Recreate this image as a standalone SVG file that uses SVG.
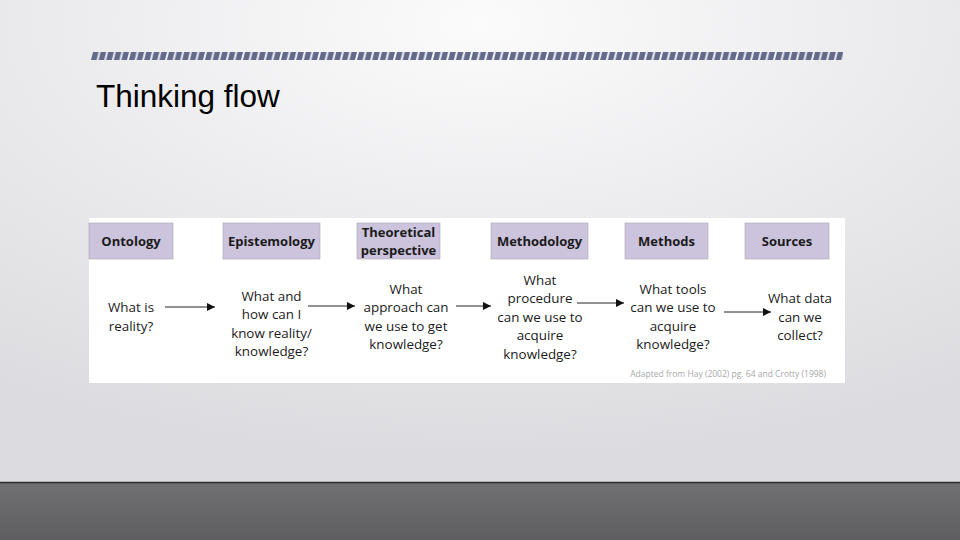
<svg xmlns="http://www.w3.org/2000/svg" width="960" height="540" viewBox="0 0 960 540">
<defs>
<radialGradient id="bg" cx="0.5" cy="0.05" r="0.9">
<stop offset="0" stop-color="#fbfbfc"/>
<stop offset="0.5" stop-color="#ebebed"/>
<stop offset="1" stop-color="#dcdce0"/>
</radialGradient>
<linearGradient id="floor" x1="0" y1="0" x2="0" y2="1">
<stop offset="0" stop-color="#707072"/>
<stop offset="1" stop-color="#5e5e61"/>
</linearGradient>
<pattern id="stripes" x="91" y="52" width="7.6" height="8" patternUnits="userSpaceOnUse">
<polygon points="2,0 7.6,0 5.6,8 0,8" fill="#626b89"/>
</pattern>
<marker id="arr" viewBox="0 0 10 10" refX="10" refY="5" markerWidth="8" markerHeight="8" markerUnits="userSpaceOnUse" orient="auto">
<path d="M0,0 L10,5 L0,10 z" fill="#111"/>
</marker>
<style>
.hdr{fill:#ccc3dc;stroke:#a9a3b4;stroke-width:0.6}
.ht{font-family:"Open Sans","Liberation Sans",sans-serif;font-weight:bold;font-size:13px;fill:#1b1b1b;text-anchor:middle}
.bt{font-family:"Open Sans","Liberation Sans",sans-serif;font-size:13.4px;fill:#1b1b1b;text-anchor:middle}
.cn{stroke:#222;stroke-width:1;fill:none;marker-end:url(#arr)}
</style>
</defs>
<rect x="0" y="0" width="960" height="483" fill="url(#bg)"/>
<rect x="0" y="483" width="960" height="57" fill="url(#floor)"/>
<line x1="0" y1="482.5" x2="960" y2="482.5" stroke="#2a2a2a" stroke-width="1.5"/>
<rect x="91" y="52" width="752" height="8" fill="url(#stripes)"/>
<text x="96" y="107" font-family="'Liberation Sans',Arial,sans-serif" font-size="31.5" fill="#000">Thinking flow</text>

<rect x="89" y="218" width="756" height="165" fill="#ffffff"/>

<g id="ontology">
<rect class="hdr" x="89" y="223" width="84" height="36"/>
<text class="ht" x="131" y="246">Ontology</text>
<text class="bt" x="131" y="312">What is</text>
<text class="bt" x="131" y="331">reality?</text>
</g>
<g id="epistemology">
<rect class="hdr" x="223" y="223" width="97" height="36"/>
<text class="ht" x="271.5" y="246">Epistemology</text>
<text class="bt" x="271.5" y="301">What and</text>
<text class="bt" x="271.5" y="319">how can I</text>
<text class="bt" x="271.5" y="338">know reality/</text>
<text class="bt" x="271.5" y="356">knowledge?</text>
</g>
<g id="theoretical">
<rect class="hdr" x="357" y="223" width="83" height="36"/>
<text class="ht" x="398.5" y="237">Theoretical</text>
<text class="ht" x="398.5" y="255">perspective</text>
<text class="bt" x="406" y="294">What</text>
<text class="bt" x="406" y="312">approach can</text>
<text class="bt" x="406" y="331">we use to get</text>
<text class="bt" x="406" y="349">knowledge?</text>
</g>
<g id="methodology">
<rect class="hdr" x="491" y="223" width="97" height="36"/>
<text class="ht" x="539.5" y="246">Methodology</text>
<text class="bt" x="540" y="285">What</text>
<text class="bt" x="540" y="303">procedure</text>
<text class="bt" x="540" y="322">can we use to</text>
<text class="bt" x="540" y="340">acquire</text>
<text class="bt" x="540" y="359">knowledge?</text>
</g>
<g id="methods">
<rect class="hdr" x="625" y="223" width="83" height="36"/>
<text class="ht" x="666.5" y="246">Methods</text>
<text class="bt" x="673" y="294">What tools</text>
<text class="bt" x="673" y="312">can we use to</text>
<text class="bt" x="673" y="331">acquire</text>
<text class="bt" x="673" y="349">knowledge?</text>
</g>
<g id="sources">
<rect class="hdr" x="745" y="223" width="84" height="36"/>
<text class="ht" x="787" y="246">Sources</text>
<text class="bt" x="800" y="303">What data</text>
<text class="bt" x="800" y="322">can we</text>
<text class="bt" x="800" y="340">collect?</text>
</g>

<g id="connectors">
<line class="cn" x1="165" y1="307" x2="215" y2="307"/>
<line class="cn" x1="308" y1="306" x2="355" y2="306"/>
<line class="cn" x1="456" y1="306" x2="491" y2="306"/>
<line class="cn" x1="577" y1="303" x2="624" y2="303"/>
<line class="cn" x1="724" y1="312" x2="771" y2="312"/>
</g>

<text x="826" y="377" text-anchor="end" font-family="'Open Sans','Liberation Sans',sans-serif" font-size="8.5" fill="#a8a8a8">Adapted from Hay (2002) pg. 64 and Crotty (1998)</text>
</svg>
